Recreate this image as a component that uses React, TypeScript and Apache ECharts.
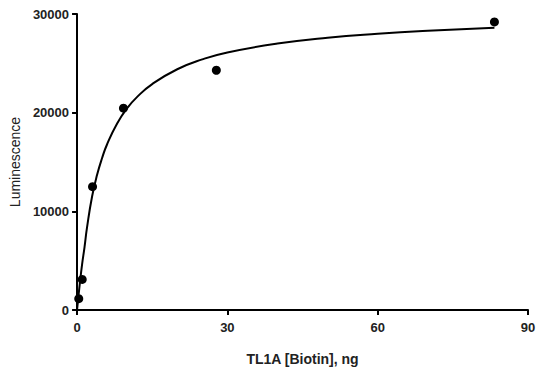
import React, { useEffect, useRef } from "react";
import * as echarts from "echarts";

const concentrations = [0.34, 1.03, 3.09, 9.26, 27.8, 83.3];
const luminescence = [1150, 3100, 12500, 20450, 24300, 29200];

const fitX = [0, 0.3, 0.6, 1, 1.5, 2, 3, 4, 5, 6, 8, 10, 12, 15, 20, 25, 30, 40, 50, 60, 70, 83.3];
const fitY = [0, 1500, 2900, 4600, 6400, 8400, 11500, 13700, 15400, 16800, 18900, 20450, 21600, 22900, 24400, 25400, 26100, 27000, 27600, 28000, 28300, 28600];

const xTicks = [0, 30, 60, 90];
const yTicks = [0, 10000, 20000, 30000];

export default function App() {
  const ref = useRef<HTMLDivElement>(null);
  useEffect(() => {
    if (!ref.current) return;
    const chart = echarts.init(ref.current, undefined, { renderer: "svg" });
    const axisLabel = {
      color: "#222",
      fontFamily: "Liberation Sans, Arial, sans-serif",
      fontWeight: "bold" as const,
      fontSize: 13,
    };
    chart.setOption({
      animation: false,
      backgroundColor: "#fff",
      grid: { left: 75, right: 17, top: 14, bottom: 63 },
      xAxis: {
        type: "value",
        min: xTicks[0],
        max: xTicks[xTicks.length - 1],
        interval: 30,
        name: "TL1A [Biotin], ng",
        nameLocation: "middle",
        nameGap: 42,
        nameTextStyle: {
          color: "#222",
          fontFamily: "Liberation Sans, Arial, sans-serif",
          fontWeight: "bold",
          fontSize: 14,
        },
        axisLine: { show: true, lineStyle: { color: "#000", width: 2 } },
        axisTick: { show: true, length: 5, lineStyle: { color: "#000", width: 2 } },
        axisLabel: { ...axisLabel, margin: 11, formatter: (v: number) => String(v) },
        splitLine: { show: false },
      },
      yAxis: {
        type: "value",
        min: yTicks[0],
        max: yTicks[yTicks.length - 1],
        interval: 10000,
        name: "Luminescence",
        nameLocation: "middle",
        nameGap: 54,
        nameTextStyle: {
          color: "#222",
          fontFamily: "Liberation Sans, Arial, sans-serif",
          fontSize: 14,
        },
        axisLine: { show: true, lineStyle: { color: "#000", width: 2 } },
        axisTick: { show: true, length: 5, lineStyle: { color: "#000", width: 2 } },
        axisLabel: { ...axisLabel, margin: 8, formatter: (v: number) => String(v) },
        splitLine: { show: false },
      },
      series: [
        {
          type: "line",
          data: fitX.map((x, i) => [x, fitY[i]]),
          smooth: true,
          showSymbol: false,
          lineStyle: { color: "#000", width: 2 },
          z: 2,
        },
        {
          type: "scatter",
          data: concentrations.map((x, i) => [x, luminescence[i]]),
          symbol: "circle",
          symbolSize: 9,
          itemStyle: { color: "#000", opacity: 1 },
          z: 3,
        },
      ],
    });
    return () => chart.dispose();
  }, []);
  return (
    <div
      ref={ref}
      style={{ position: "absolute", left: 0, top: 0, width: 545, height: 373 }}
    />
  );
}
